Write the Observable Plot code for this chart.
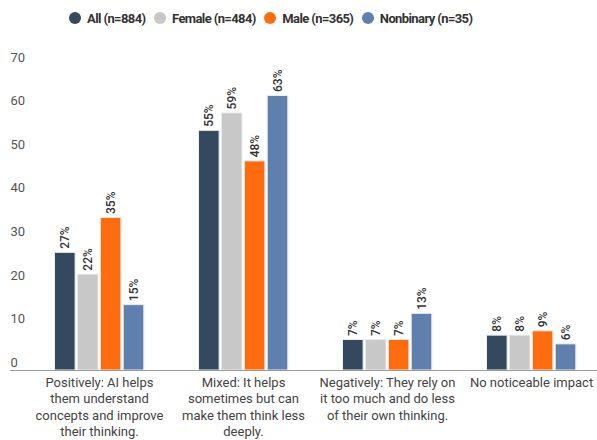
<!DOCTYPE html>
<html>
<head>
<meta charset="utf-8">
<script src="https://cdn.jsdelivr.net/npm/d3@7"></script>
<script src="https://cdn.jsdelivr.net/npm/@observablehq/plot@0.6"></script>
<style>
  html, body { margin: 0; padding: 0; background: #fff; }
  body { width: 597px; height: 440px; overflow: hidden; font-family: Roboto, "Noto Sans", sans-serif; }
  #legend { height: 36px; display: flex; align-items: center; padding-left: 69px; }
  .item { display: flex; align-items: center; margin-right: 8.5px; font-weight: 700; font-size: 13px; color: #333; letter-spacing: -0.6px; }
  .dot { width: 12px; height: 12px; border-radius: 50%; margin-right: 6px; }
</style>
</head>
<body>
<div id="legend"></div>
<div id="chart"></div>
<script>
const categories = [
  "Positively: AI helps them understand concepts and improve their thinking.",
  "Mixed: It helps sometimes but can make them think less deeply.",
  "Negatively: They rely on it too much and do less of their own thinking.",
  "No noticeable impact"
];
const categoryTickLabels = [
  "Positively: AI helps\nthem understand\nconcepts and improve\ntheir thinking.",
  "Mixed: It helps\nsometimes but can\nmake them think less\ndeeply.",
  "Negatively: They rely on\nit too much and do less\nof their own thinking.",
  "No noticeable impact"
];
const series = ["All (n=884)", "Female (n=484)", "Male (n=365)", "Nonbinary (n=35)"];
const seriesColors = ["#34495e", "#c8c8c8", "#ff6c10", "#5f80ad"];
const allValues = [27, 55, 7, 8];
const femaleValues = [22, 59, 7, 8];
const maleValues = [35, 48, 7, 9];
const nonbinaryValues = [15, 63, 13, 6];
const yTicks = [0, 10, 20, 30, 40, 50, 60, 70];

const valuesBySeries = [allValues, femaleValues, maleValues, nonbinaryValues];

// legend
const legend = document.getElementById("legend");
series.forEach((s, i) => {
  const item = document.createElement("div");
  item.className = "item";
  const dot = document.createElement("span");
  dot.className = "dot";
  dot.style.background = seriesColors[i];
  item.appendChild(dot);
  item.appendChild(document.createTextNode(s));
  legend.appendChild(item);
});

// layout of the grouped bars inside each category band
const band = 144;        // category step in px
const groupStart = 27.5; // offset of first bar within band
const barStep = 22.9;
const barWidth = 20.6;

const seriesMarks = series.flatMap((s, k) => {
  const rows = categories.map((c, j) => ({category: c, series: s, value: valuesBySeries[k][j]}));
  const left = groupStart + k * barStep;
  const right = band - (left + barWidth);
  const center = left + barWidth / 2 - band / 2;
  return [
    Plot.barY(rows, {x: "category", y: "value", fill: seriesColors[k], stroke: "#ececec", strokeWidth: 1, insetLeft: left, insetRight: right}),
    Plot.text(rows, {x: "category", y: "value", text: d => d.value + "%", rotate: -90, textAnchor: "start", lineAnchor: "middle", dx: center, dy: -4, fontSize: 12, fontWeight: 500, fill: "#333"})
  ];
});

const chart = Plot.plot({
  width: 597,
  height: 404,
  marginTop: 29,
  marginBottom: 70,
  marginLeft: 10,
  marginRight: 0,
  style: {fontFamily: "Roboto, 'Noto Sans', sans-serif", color: "#444", background: "#fff"},
  x: {domain: categories, range: [26.5, 26.5 + 4 * band], padding: 0, label: null},
  y: {domain: [0, 70], label: null},
  marks: [
    Plot.axisY({ticks: yTicks, tickSize: 0, tickPadding: 0, textAnchor: "start", dy: -8, fontSize: 13, fill: "#555", label: null}),
    Plot.axisX({anchor: "bottom", tickSize: 0, tickPadding: 5, fontSize: 13, lineHeight: 1.25, fill: "#444", label: null,
      tickFormat: d => categoryTickLabels[categories.indexOf(d)]}),
    ...seriesMarks,
    Plot.ruleY([0], {stroke: "#999", strokeWidth: 1})
  ]
});
document.getElementById("chart").appendChild(chart);
</script>
</body>
</html>
